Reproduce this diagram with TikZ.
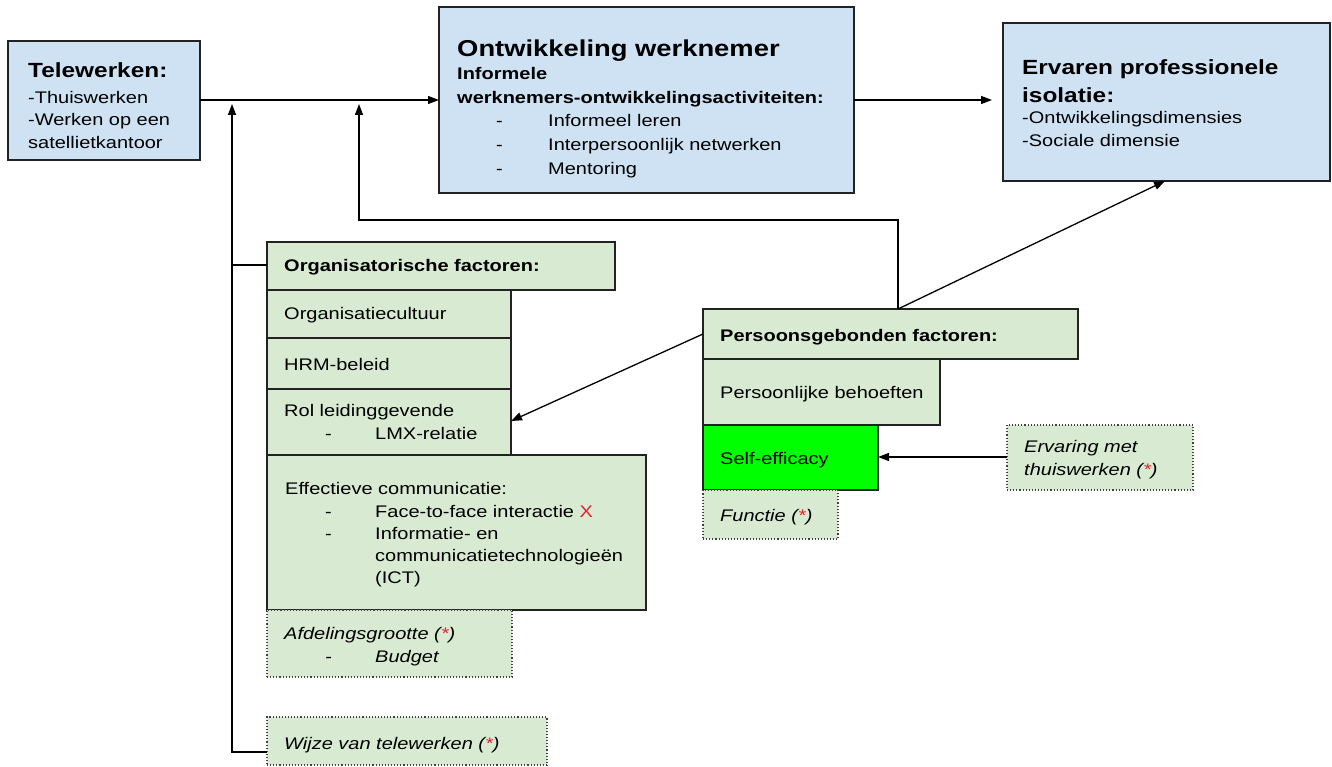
\documentclass[tikz,border=0pt]{standalone}
\usepackage{fontspec}
\setmainfont{Liberation Sans}[FakeStretch=1.19]
\usetikzlibrary{arrows.meta}
\definecolor{bluefill}{HTML}{CFE2F3}
\definecolor{greenfill}{HTML}{D9EAD3}
\definecolor{brightgreen}{HTML}{00FF00}
\definecolor{boxline}{HTML}{222222}
\definecolor{starred}{HTML}{E8202A}
\newcommand{\ster}{(\textcolor{starred}{*})}
\begin{document}
\begin{tikzpicture}[x=1pt,y=-1pt,
  basebox/.style={rectangle, draw=boxline, line width=1.3pt, anchor=north west, inner sep=0pt, outer sep=0pt},
  bluebox/.style={basebox, fill=bluefill},
  greenbox/.style={basebox, fill=greenfill},
  limebox/.style={basebox, fill=brightgreen},
  dotbox/.style={rectangle, draw=black!75, line width=1.1pt, dotted, fill=greenfill, anchor=north west, inner sep=0pt, outer sep=0pt},
  txt/.style={anchor=base west, inner sep=0pt, font=\fontsize{16.8}{20}\selectfont},
  btxt/.style={txt, font=\fontsize{16.8}{20}\selectfont\bfseries},
  ttxt/.style={txt, font=\fontsize{20.5}{24}\selectfont\bfseries},
  bigtxt/.style={txt, font=\fontsize{23}{27}\selectfont\bfseries},
  itxt/.style={txt, font=\fontsize{16.8}{20}\selectfont\itshape},
  conn/.style={line width=1.3pt, draw=black},
  arr/.style={conn, -{Triangle[length=11pt,width=8pt]}}
]
\useasboundingbox (0,0) rectangle (1332,767);

% ---------- boxes ----------
\node[bluebox, minimum width=192pt, minimum height=119pt] (tele) at (8,41) {};
\node[bluebox, minimum width=415pt, minimum height=186pt] (ontw) at (439,7) {};
\node[bluebox, minimum width=327pt, minimum height=158pt] (erv) at (1003,23) {};

\node[greenbox, minimum width=348pt, minimum height=48pt] (orgh) at (267,242) {};
\node[greenbox, minimum width=244pt, minimum height=48pt] (cult) at (267,290) {};
\node[greenbox, minimum width=244pt, minimum height=51pt] (hrm) at (267,338) {};
\node[greenbox, minimum width=244pt, minimum height=66pt] (rol) at (267,389) {};
\node[greenbox, minimum width=379pt, minimum height=155pt] (comm) at (267,455) {};
\node[dotbox, minimum width=245pt, minimum height=67pt] (afd) at (267,610) {};
\node[dotbox, minimum width=280pt, minimum height=48pt] (wijze) at (267,717) {};

\node[greenbox, minimum width=375pt, minimum height=50pt] (persh) at (703,309) {};
\node[greenbox, minimum width=237pt, minimum height=66pt] (behoef) at (703,359) {};
\node[limebox, minimum width=175pt, minimum height=65pt] (self) at (703,425) {};
\node[dotbox, minimum width=135pt, minimum height=49pt] (func) at (703,490) {};
\node[dotbox, minimum width=186pt, minimum height=65pt] (ervth) at (1007,425) {};

% ---------- texts ----------
\node[ttxt] (t1) at (28,78) {Telewerken:};
\node[txt] (t2) at (28,103.5) {-Thuiswerken};
\node[txt] (t3) at (28,126) {-Werken op een};
\node[txt] (t4) at (28,148.5) {satellietkantoor};

\node[bigtxt] (o1) at (457,57) {Ontwikkeling werknemer};
\node[btxt] (o2) at (457,80) {Informele};
\node[btxt] (o3) at (457,104) {werknemers-ontwikkelingsactiviteiten:};
\node[txt] (o4d) at (496,127) {-};
\node[txt] (o4) at (548,127) {Informeel leren};
\node[txt] (o5d) at (496,151) {-};
\node[txt] (o5) at (548,151) {Interpersoonlijk netwerken};
\node[txt] (o6d) at (496,175) {-};
\node[txt] (o6) at (548,175) {Mentoring};

\node[ttxt] (e1) at (1022,75) {Ervaren professionele};
\node[ttxt] (e2) at (1022,103) {isolatie:};
\node[txt] (e3) at (1022,124) {-Ontwikkelingsdimensies};
\node[txt] (e4) at (1022,147) {-Sociale dimensie};

\node[btxt] (g1) at (284,271) {Organisatorische factoren:};
\node[txt] (g2) at (284,319) {Organisatiecultuur};
\node[txt] (g3) at (284,370) {HRM-beleid};
\node[txt] (g4) at (284,416) {Rol leidinggevende};
\node[txt] (g5d) at (325,439) {-};
\node[txt] (g5) at (375,439) {LMX-relatie};
\node[txt] (c1) at (285,494) {Effectieve communicatie:};
\node[txt] (c2d) at (325,517) {-};
\node[txt] (c2) at (375,517) {Face-to-face interactie \textcolor{starred}{X}};
\node[txt] (c3d) at (325,539) {-};
\node[txt] (c3) at (375,539) {Informatie- en};
\node[txt] (c4) at (375,561) {communicatietechnologieën};
\node[txt] (c5) at (375,583) {(ICT)};
\node[itxt] (a1) at (284,639) {Afdelingsgrootte \ster};
\node[itxt] (a2d) at (325,662) {-};
\node[itxt] (a2) at (375,662) {Budget};
\node[itxt] (w1) at (284,749) {Wijze van telewerken \ster};

\node[btxt] (p1) at (720,341) {Persoonsgebonden factoren:};
\node[txt] (p2) at (720,398) {Persoonlijke behoeften};
\node[txt] (p3) at (720,464) {Self-efficacy};
\node[itxt] (p4) at (720,521) {Functie \ster};
\node[itxt] (r1) at (1024,452) {Ervaring met};
\node[itxt] (r2) at (1024,475) {thuiswerken \ster};

% ---------- connectors ----------
\coordinate (jA) at (232,104);
\coordinate (jB) at (359,104);
\coordinate (jC) at (898,220);
\coordinate (pTop) at (898,309);
\coordinate (ervB) at (1165,181);
\coordinate (ervIn) at (992,100);

\draw[arr] (tele.east |- 0,100) -- (ontw.west |- 0,100);
\draw[arr] (ontw.east |- 0,100) -- (ervIn);
\draw[arr] (wijze.west |- 0,752) -- (jA |- 0,752) -- (jA);
\draw[conn] (orgh.west |- 0,265) -- (jA |- 0,265);
\draw[arr] (pTop) -- (jC) -- (jC -| jB) -- (jB);
\draw[arr] (pTop) -- (ervB);
\draw[arr] (persh.west |- 0,334) -- (rol.east |- 0,421);
\draw[arr] (ervth.west |- 0,457) -- (self.east |- 0,457);
\end{tikzpicture}
\end{document}
